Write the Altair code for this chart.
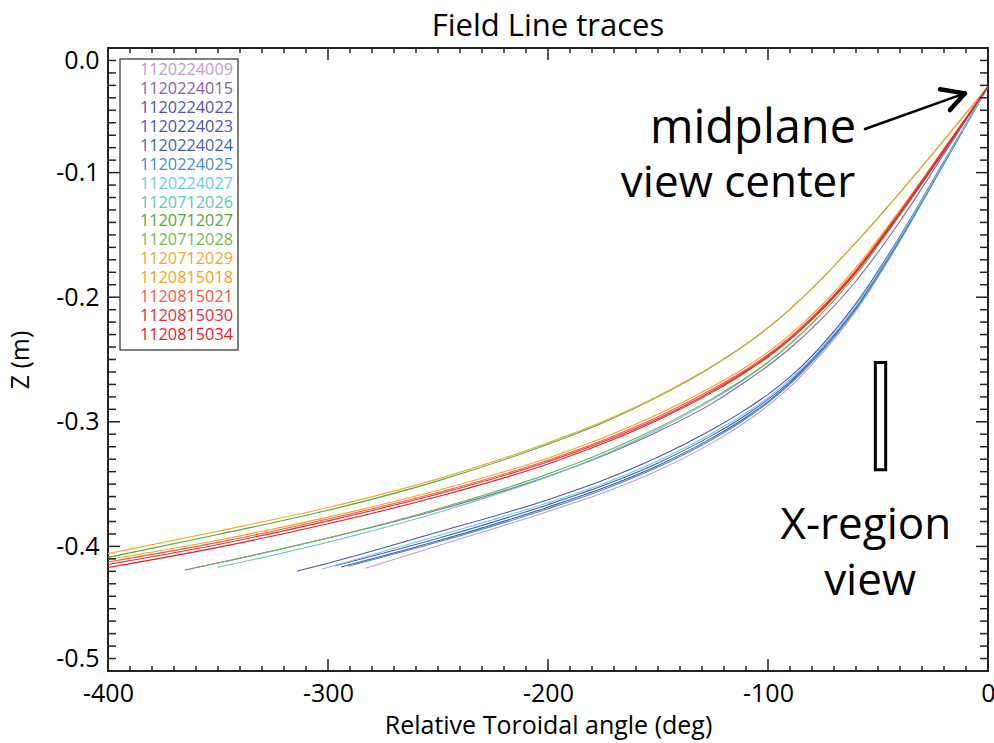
import altair as alt
import pandas as pd

FONT = "Open Sans"

# ---------------- data ----------------
phi_grid = [0, -20, -40, -60, -80, -90, -100, -110, -125, -150, -175, -200, -250, -300, -350, -400]

names = ["1120224009", "1120224015", "1120224022", "1120224023", "1120224024",
         "1120224025", "1120224027", "1120712026", "1120712027", "1120712028",
         "1120712029", "1120815018", "1120815021", "1120815030", "1120815034"]
colors = ["#c29ad0", "#8a5db2", "#5a4ea6", "#4a55aa", "#3d63b4",
          "#3a90d4", "#68cde0", "#5cc6c6", "#4aac38", "#6cbc48",
          "#f5a52a", "#f89f22", "#f05a30", "#e82a32", "#e41a2a"]

# z (m) at phi_grid points; each series then ends at its own tail point
z_1120224009 = [-0.031, -0.093, -0.155, -0.211, -0.254, -0.272, -0.287, -0.300, -0.3165, -0.3390, -0.3570, -0.3720, -0.3995]
z_1120224015 = [-0.031, -0.085, -0.139, -0.187, -0.225, -0.241, -0.255, -0.2675, -0.2848, -0.3078, -0.3273, -0.3438, -0.3708, -0.3933, -0.4133]
z_1120224022 = [-0.031, -0.091, -0.151, -0.205, -0.247, -0.264, -0.278, -0.290, -0.3058, -0.3283, -0.3470, -0.3625, -0.3885, -0.4135]
z_1120224023 = [-0.031, -0.0925, -0.1535, -0.209, -0.2515, -0.269, -0.2838, -0.2963, -0.3125, -0.3350, -0.3532, -0.3685, -0.3955]
z_1120224024 = [-0.031, -0.092, -0.153, -0.208, -0.250, -0.2675, -0.282, -0.2945, -0.3105, -0.3330, -0.3512, -0.3665, -0.3935]
z_1120224025 = [-0.031, -0.0925, -0.154, -0.2095, -0.252, -0.2698, -0.2848, -0.2975, -0.3138, -0.3363, -0.3545, -0.3698, -0.3965]
z_1120224027 = [-0.031, -0.0915, -0.152, -0.207, -0.249, -0.266, -0.2805, -0.2928, -0.3088, -0.3313, -0.3497, -0.3650, -0.3915]
z_1120712026 = [-0.031, -0.083, -0.134, -0.182, -0.221, -0.2378, -0.2525, -0.2652, -0.2820, -0.3062, -0.3266, -0.3440, -0.3728, -0.3966]
z_1120712027 = [-0.031, -0.074, -0.116, -0.156, -0.193, -0.2097, -0.2246, -0.2379, -0.2553, -0.2800, -0.3008, -0.3180, -0.3474, -0.3710, -0.3904]
z_1120712028 = [-0.031, -0.083, -0.134, -0.182, -0.221, -0.2375, -0.252, -0.2645, -0.281, -0.3048, -0.3248, -0.3418, -0.3698, -0.3933, -0.4133]
z_1120712029 = [-0.031, -0.074, -0.116, -0.156, -0.193, -0.2095, -0.2243, -0.2375, -0.2548, -0.2793, -0.2998, -0.3168, -0.3458, -0.3688, -0.3878]
z_1120815018 = [-0.031, -0.081, -0.130, -0.176, -0.214, -0.230, -0.244, -0.256, -0.2715, -0.2940, -0.3128, -0.3290, -0.3550, -0.3765, -0.3950]
z_1120815021 = [-0.031, -0.081, -0.131, -0.178, -0.216, -0.232, -0.246, -0.258, -0.2735, -0.2960, -0.3148, -0.3308, -0.3568, -0.3780, -0.3968]
z_1120815030 = [-0.031, -0.082, -0.132, -0.179, -0.217, -0.233, -0.247, -0.259, -0.2748, -0.2973, -0.3160, -0.3320, -0.3580, -0.3795, -0.3985]
z_1120815034 = [-0.031, -0.083, -0.133, -0.180, -0.218, -0.234, -0.248, -0.260, -0.2760, -0.2985, -0.3175, -0.3338, -0.3600, -0.3818, -0.4008]

tail_phi = [-283, -365, -314, -294, -297, -291, -303, -350, -400, -360, -400, -400, -400, -400, -400]
tail_z = [-0.4176, -0.419, -0.4198, -0.4165, -0.4157, -0.4160, -0.4184, -0.4168,
          -0.4088, -0.417, -0.4058, -0.4105, -0.4125, -0.4145, -0.417]

z_lists = [z_1120224009, z_1120224015, z_1120224022, z_1120224023, z_1120224024,
           z_1120224025, z_1120224027, z_1120712026, z_1120712027, z_1120712028,
           z_1120712029, z_1120815018, z_1120815021, z_1120815030, z_1120815034]

x_tick_labels = [-400, -300, -200, -100, 0]
y_tick_labels = [-0.5, -0.4, -0.3, -0.2, -0.1, 0.0]
x_minor = [v for v in range(-400, 1, 10) if v % 100 != 0]
y_minor = [round(-0.5 + 0.01 * i, 2) for i in range(51) if i % 10 != 0]

# annotations
ann_text = ["midplane", "view center", "X-region", "view"]
ann_phi = [-106.8, -113.6, -55.5, -53.6]
ann_z = [-0.0762, -0.1196, -0.394, -0.439]
ann_size = [47, 44, 44, 44]

arrow_x1 = [-55.9, -21.8, -17.3]
arrow_y1 = [-0.065, -0.0331, -0.0498]
arrow_x2 = [-11.5, -10.45, -10.45]
arrow_y2 = [-0.0370, -0.0364, -0.0364]
arrow_w = [2.5, 4.5, 4.5]

box_x = [-51.2]
box_x2 = [-46.5]
box_y = [-0.2525]
box_y2 = [-0.3385]

# ---------------- tables ----------------
rows = []
for name, zl, tp, tz in zip(names, z_lists, tail_phi, tail_z):
    for p, z in zip(phi_grid, zl):
        rows.append({"name": name, "phi": p, "z": z})
    rows.append({"name": name, "phi": tp, "z": tz})
df = pd.DataFrame(rows)

W, H = 880, 623
AX = "#222222"
xs = alt.Scale(domain=[-400, 0], nice=False, zero=False)
ys = alt.Scale(domain=[-0.5, 0], nice=False, zero=False)
cs = alt.Scale(domain=names, range=colors)

x_axis = alt.Axis(
    values=x_tick_labels, format="d", labelExpr="replace(datum.label, '−', '-')",
    ticks=False, domain=False, grid=False, title="Relative Toroidal angle (deg)",
    labelFlush=False,
    labelFontSize=25, titleFontSize=25, labelPadding=10, titlePadding=7,
    labelColor="black", titleColor="black", titleFontWeight="normal",
    labelFont=FONT, titleFont=FONT)
y_axis = alt.Axis(
    values=y_tick_labels, format=".1f", labelExpr="replace(datum.label, '−', '-')",
    ticks=False, domain=False, grid=False, title="Z (m)", labelFlush=True,
    labelFontSize=25, titleFontSize=25, labelPadding=9, titlePadding=22,
    labelColor="black", titleColor="black", titleFontWeight="normal",
    labelFont=FONT, titleFont=FONT)


def X(field):
    return alt.X(field, scale=xs, axis=x_axis)


def Y(field):
    return alt.Y(field, scale=ys, axis=y_axis)


lines = alt.Chart(df).mark_line(strokeWidth=1.1, interpolate="monotone", clip=True).encode(
    x=X("phi:Q"),
    y=Y("z:Q"),
    color=alt.Color("name:N", scale=cs, legend=None),
    order=alt.Order("phi:Q"),
)


def xticks(vals, length, top):
    y0 = 0 if top else H
    y1 = length if top else H - length
    return alt.Chart(pd.DataFrame({"t": vals})).mark_rule(color=AX, strokeWidth=1.5).encode(
        x=X("t:Q"), y=alt.value(y0), y2=alt.value(y1))


def yticks(vals, length, right):
    x0 = W if right else 0
    x1 = W - length if right else length
    return alt.Chart(pd.DataFrame({"t": vals})).mark_rule(color=AX, strokeWidth=1.5).encode(
        y=Y("t:Q"), x=alt.value(x0), x2=alt.value(x1))


ticks = [
    xticks(x_tick_labels, 12, False), xticks(x_minor, 5, False),
    xticks(x_tick_labels, 12, True), xticks(x_minor, 5, True),
    yticks(y_tick_labels, 12, False), yticks(y_minor, 8, False),
    yticks(y_tick_labels, 12, True), yticks(y_minor, 8, True),
]

leg_df = pd.DataFrame({"name": names, "row": list(range(len(names)))})
legend_text = alt.Chart(leg_df).transform_calculate(
    ypx="22 + datum.row * 18.93"
).mark_text(align="right", baseline="middle", font=FONT, fontSize=16.3).encode(
    x=alt.value(125),
    y=alt.Y("ypx:Q", scale=None),
    text="name:N",
    color=alt.Color("name:N", scale=cs, legend=None),
)
legend_box = alt.Chart(pd.DataFrame({"a": [0]})).mark_rect(
    fillOpacity=0, stroke="#555555", strokeWidth=1.5
).encode(x=alt.value(12), x2=alt.value(130), y=alt.value(11), y2=alt.value(302))

ann = alt.Chart(pd.DataFrame({"label": ann_text, "phi": ann_phi, "z": ann_z, "s": ann_size})).mark_text(
    font=FONT, align="center", baseline="alphabetic", color="black"
).encode(
    x=X("phi:Q"),
    y=Y("z:Q"),
    text="label:N",
    size=alt.Size("s:Q", scale=None, legend=None),
)

arrow = alt.Chart(pd.DataFrame({"x1": arrow_x1, "y1": arrow_y1, "x2": arrow_x2,
                                "y2": arrow_y2, "w": arrow_w})).mark_rule(
    color="black", strokeCap="round"
).encode(
    x=X("x1:Q"), x2="x2:Q",
    y=Y("y1:Q"), y2="y2:Q",
    strokeWidth=alt.StrokeWidth("w:Q", scale=None, legend=None),
)

box = alt.Chart(pd.DataFrame({"x": box_x, "x2": box_x2, "y": box_y, "y2": box_y2})).mark_rect(
    fillOpacity=0, stroke="black", strokeWidth=3
).encode(
    x=X("x:Q"), x2="x2:Q",
    y=Y("y:Q"), y2="y2:Q",
)

chart = alt.layer(lines, *ticks, legend_box, legend_text, ann, arrow, box).properties(
    width=W, height=H,
    padding={"left": 108, "top": 48, "right": 6, "bottom": 72},
    autosize=alt.AutoSizeParams(type="none"),
    title=alt.Title("Field Line traces", fontSize=31, font=FONT, fontWeight="normal",
                    color="black", offset=4),
    background="white",
).configure_view(stroke=AX, strokeWidth=2)

chart.save("out.html", embed_options={"renderer": "svg", "actions": False})
